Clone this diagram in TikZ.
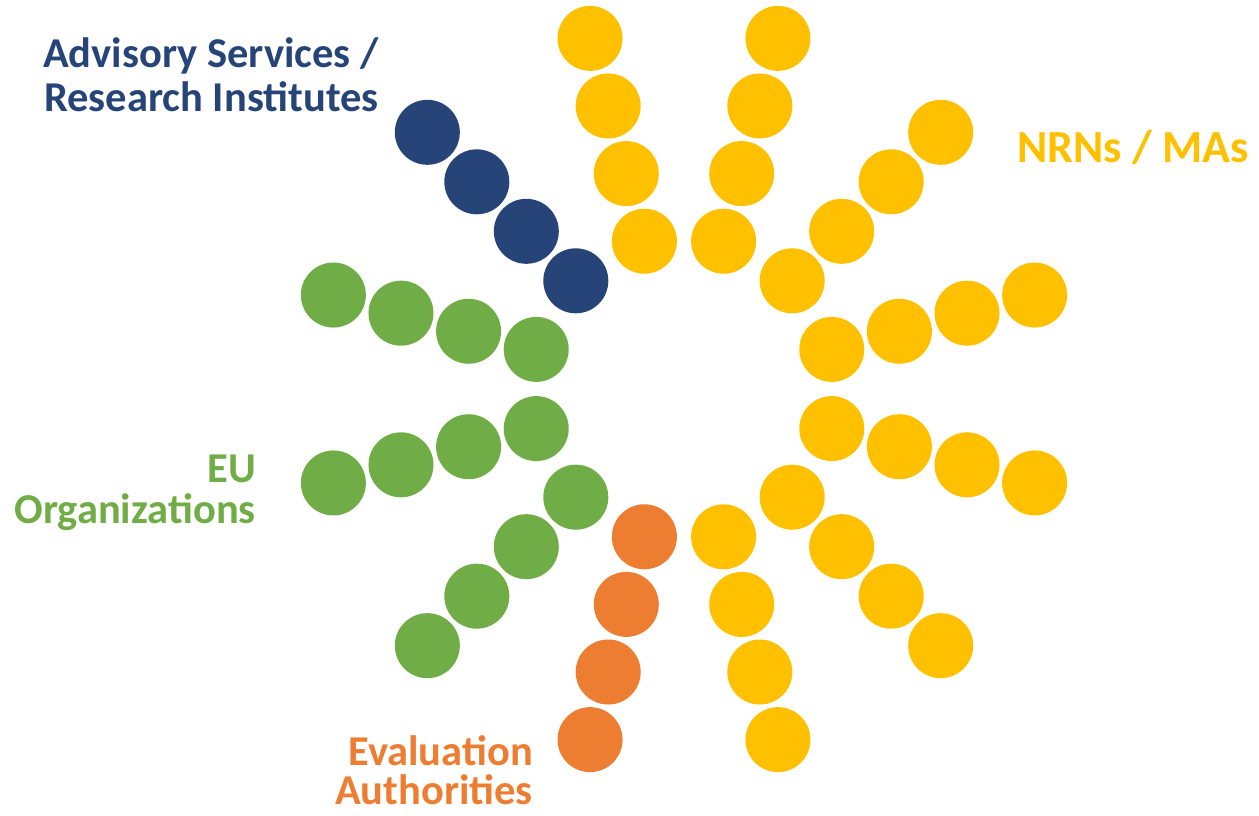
\documentclass[tikz,border=0pt]{standalone}
\usepackage{fontspec}
\setmainfont{Carlito}
\definecolor{cyellow}{HTML}{FFC000}
\definecolor{cnavy}{HTML}{264478}
\definecolor{cgreen}{HTML}{70AD47}
\definecolor{corange}{HTML}{ED7D31}
\begin{document}
\begin{tikzpicture}[x=1pt,y=1pt,
  dot/.style={circle,fill=#1,draw=none,minimum size=65pt,inner sep=0pt},
  lbl/.style={text=#1,font=\fontsize{42.5}{42.5}\selectfont\bfseries,inner sep=0pt}]
\useasboundingbox (0,0) rectangle (1259,815);
\coordinate (C) at (684,426);
\foreach \a/\c in {105/cyellow,75/cyellow,45/cyellow,15/cyellow,-15/cyellow,-45/cyellow,-75/cyellow,-105/corange,-135/cgreen,-165/cgreen,165/cgreen,135/cnavy}{
  \foreach \r [count=\j] in {153,223,293,363}{
    \node[dot=\c] (d\a-\j) at ([shift={(\a:\r)}]C) {};
  }
}
\node[lbl=cnavy,anchor=base west] (adv1) at (43,747) {Advisory Services /};
\node[lbl=cnavy,anchor=base west] (adv2) at (44,703) {Research Institutes};
\node[lbl=cyellow,anchor=base west,font=\fontsize{46}{46}\selectfont\bfseries] (nrn) at (1017,652) {NRNs / MAs};
\node[lbl=cgreen,anchor=base east] (eu1) at (256,332) {EU};
\node[lbl=cgreen,anchor=base east] (eu2) at (256,291) {Organizations};
\node[lbl=corange,anchor=base east] (ev1) at (533,50) {Evaluation};
\node[lbl=corange,anchor=base east] (ev2) at (533,11) {Authorities};
\end{tikzpicture}
\end{document}
